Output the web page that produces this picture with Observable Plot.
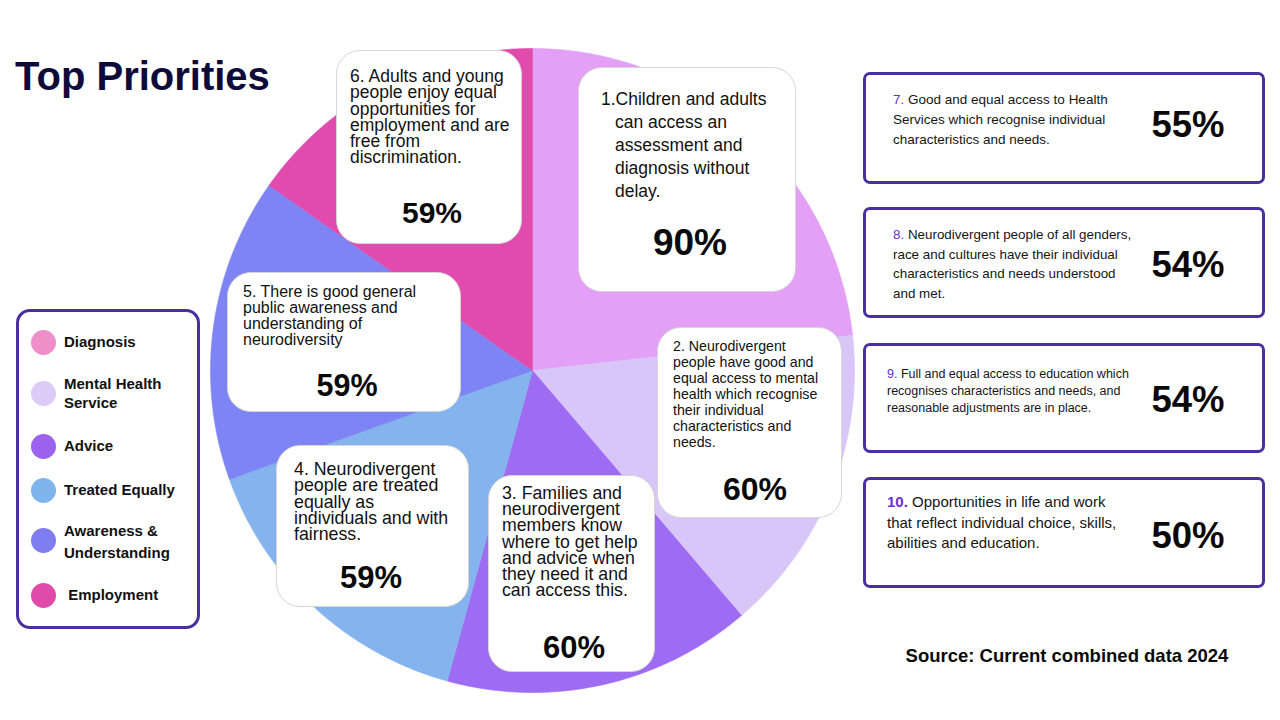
<!DOCTYPE html>
<html><head><meta charset="utf-8">
<script src="https://cdn.jsdelivr.net/npm/d3@7"></script>
<script src="https://cdn.jsdelivr.net/npm/@observablehq/plot@0.6"></script>
<style>
body{margin:0;width:1280px;height:720px;overflow:hidden;position:relative;background:#fff;font-family:Arial,"Liberation Sans",Helvetica,sans-serif;color:#111}
.abs{position:absolute}
.wbox{position:absolute;background:#fff;border:1.5px solid #d6d6d6;border-radius:24px;box-sizing:border-box}
.pbox{position:absolute;border:3px solid #4b2f9e;border-radius:7px;box-sizing:border-box;background:#fff}
.pct{position:absolute;font-weight:bold;text-align:center;white-space:nowrap;color:#0a0a0a}
.txt{position:absolute;white-space:pre}
</style></head><body>
<div id="chart" class="abs" style="left:0;top:0"></div>
<script>
// ---- data ----
const categories = ["Diagnosis","Mental Health Service","Advice","Treated Equally","Awareness & Understanding","Employment"];
const values = [90, 60, 60, 59, 59, 59];
const sliceColors = ["#e3a0f6","#d9c6f8","#9e6cf3","#85b3ee","#7e84f3","#e24bae"];
const legendColors = ["#ef8fca","#dccbf6","#9c63ef","#80b4ec","#7f7ef1","#e04aa9"];
const legendLabels = ["Diagnosis","Mental Health\nService","Advice","Treated Equally","Awareness &\nUnderstanding"," Employment"];
const statements = [
  "1.Children and adults\ncan access an\nassessment and\ndiagnosis without\ndelay.",
  "2. Neurodivergent\npeople have good and\nequal access to mental\nhealth which recognise\ntheir individual\ncharacteristics and\nneeds.",
  "3. Families and\nneurodivergent\nmembers know\nwhere to get help\nand advice when\nthey need it and\ncan access this.",
  "4. Neurodivergent\npeople are treated\nequally as\nindividuals and with\nfairness.",
  "5. There is good general\npublic awareness and\nunderstanding of\nneurodiversity",
  "6. Adults and young\npeople enjoy equal\nopportunities for\nemployment and are\nfree from\ndiscrimination."
];
const otherNumbers = ["7.","8.","9.","10."];
const otherStatements = [
  " Good and equal access to Health\nServices which recognise individual\ncharacteristics and needs.",
  " Neurodivergent people of all genders,\nrace and cultures have their individual\ncharacteristics and needs understood\nand met.",
  " Full and equal access to education which\nrecognises characteristics and needs, and\nreasonable adjustments are in place.",
  " Opportunities in life and work\nthat reflect individual choice, skills,\nabilities and education."
];
const otherValues = [55, 54, 54, 50];
const titleText = "Top Priorities";
const sourceText = "Source: Current combined data 2024";

// ---- layout (positions / styles) ----
const pieBoxes = [
  {l:578,t:67,w:218,h:225,tx:601,ty:89,fs:17.5,lh:23,indent:14,pcx:690,pcy:243,pfs:37},
  {l:657,t:327,w:185,h:191,tx:673,ty:339.5,fs:14.2,lh:16,indent:0,pcx:755,pcy:489,pfs:32},
  {l:488,t:475,w:167,h:197,tx:502,ty:486.5,fs:17.7,lh:16.2,indent:0,pcx:574,pcy:647,pfs:31},
  {l:276,t:445,w:193,h:162,tx:294,ty:462.5,fs:17.8,lh:16.3,indent:0,pcx:371,pcy:577,pfs:31},
  {l:227,t:272,w:234,h:140,tx:243,ty:285.5,fs:16,lh:16,indent:0,pcx:347,pcy:385,pfs:30.5},
  {l:336,t:50,w:186,h:194,tx:350,ty:69.5,fs:17.5,lh:16.2,indent:0,pcx:432,pcy:213,pfs:30}
];
const rightBoxes = [
  {t:72,h:112,tx:893,ty:91,fs:13.5,lh:20,bold:false,pcy:125},
  {t:207,h:111,tx:893,ty:226,fs:13.4,lh:19.7,bold:false,pcy:265},
  {t:343,h:110,tx:887,ty:366.5,fs:12.5,lh:17,bold:false,pcy:400},
  {t:477,h:111,tx:887,ty:493.5,fs:15,lh:20.5,bold:true,pcy:536}
];
const legendItems = [
  {dy:342,ly:[342]},{dy:393,ly:[384,403]},{dy:446,ly:[446]},{dy:490,ly:[490]},{dy:540,ly:[531,553]},{dy:595,ly:[595]}
];

// ---- pie via Plot ----
const arcs = d3.pie().sort(null).value(d => d)(values);
const pts = [];
arcs.forEach((s, i) => {
  const c = categories[i];
  pts.push({cat: c, x: 0, y: 0});
  const n = Math.ceil((s.endAngle - s.startAngle) / (Math.PI / 360));
  for (let k = 0; k <= n; k++) {
    const a = s.startAngle + (s.endAngle - s.startAngle) * k / n;
    pts.push({cat: c, x: Math.sin(a), y: Math.cos(a)});
  }
  pts.push({cat: c, x: 0, y: 0});
});
const chart = Plot.plot({
  width: 1280, height: 720, margin: 0,
  x: {domain: [-1, 1], range: [210, 854], axis: null},
  y: {domain: [-1, 1], range: [692, 48], axis: null},
  color: {domain: categories, range: sliceColors},
  marks: [
    Plot.line(pts, {x: "x", y: "y", z: "cat", fill: "cat", stroke: "cat", strokeWidth: 0.6, curve: "linear"})
  ]
});
document.getElementById("chart").appendChild(chart);

// ---- overlays ----
function el(cls, style, text) {
  const d = document.createElement("div");
  d.className = cls;
  Object.assign(d.style, style);
  if (text != null) d.textContent = text;
  document.body.appendChild(d);
  return d;
}
// title
el("abs", {left:"15px", top:"53px", fontSize:"40px", fontWeight:"bold", color:"#0e0b3b", lineHeight:"46px", whiteSpace:"nowrap"}, titleText);

// pie statement boxes
pieBoxes.forEach((b, i) => {
  el("wbox", {left:b.l+"px", top:b.t+"px", width:b.w+"px", height:b.h+"px"});
  statements[i].split("\n").forEach((ln, j) => {
    el("txt", {left:(b.tx + (j > 0 ? b.indent : 0))+"px", top:(b.ty + j*b.lh - 0.08*b.fs)+"px", fontSize:b.fs+"px", lineHeight:b.lh+"px", color:"#111"}, ln);
  });
  el("pct", {left:(b.pcx-100)+"px", width:"200px", top:(b.pcy - 0.59*b.pfs)+"px", fontSize:b.pfs+"px", lineHeight:(1.2*b.pfs)+"px"}, values[i] + "%");
});

// right boxes
rightBoxes.forEach((b, i) => {
  el("pbox", {left:"863px", top:b.t+"px", width:"402px", height:b.h+"px"});
  otherStatements[i].split("\n").forEach((ln, j) => {
    const d = el("txt", {left:b.tx+"px", top:(b.ty + j*b.lh - 0.08*b.fs)+"px", fontSize:b.fs+"px", lineHeight:b.lh+"px", color:"#151515"});
    if (j === 0) {
      const s = document.createElement("span");
      s.textContent = otherNumbers[i];
      s.style.color = "#6a2fd0";
      if (b.bold) s.style.fontWeight = "bold";
      d.appendChild(s);
    }
    d.appendChild(document.createTextNode(ln));
  });
  el("pct", {left:"1088px", width:"200px", top:(b.pcy - 0.59*36.5)+"px", fontSize:"36.5px", lineHeight:(1.2*36.5)+"px"}, otherValues[i] + "%");
});

// legend
el("abs", {left:"16px", top:"309px", width:"184px", height:"320px", border:"3px solid #4b2f9e", borderRadius:"14px", boxSizing:"border-box"});
legendItems.forEach((it, i) => {
  el("abs", {left:"30.5px", top:(it.dy-12.5)+"px", width:"25px", height:"25px", borderRadius:"50%", background:legendColors[i]});
  legendLabels[i].split("\n").forEach((ln, j) => {
    el("txt", {left:"64px", top:(it.ly[j]-10)+"px", fontSize:"15px", lineHeight:"20px", fontWeight:"bold", color:"#111"}, ln);
  });
});

// source
el("abs", {left:"867px", width:"400px", textAlign:"center", top:"645px", fontSize:"18.5px", lineHeight:"22px", fontWeight:"bold", color:"#0a0a0a", whiteSpace:"nowrap"}, sourceText);
</script>
</body></html>
